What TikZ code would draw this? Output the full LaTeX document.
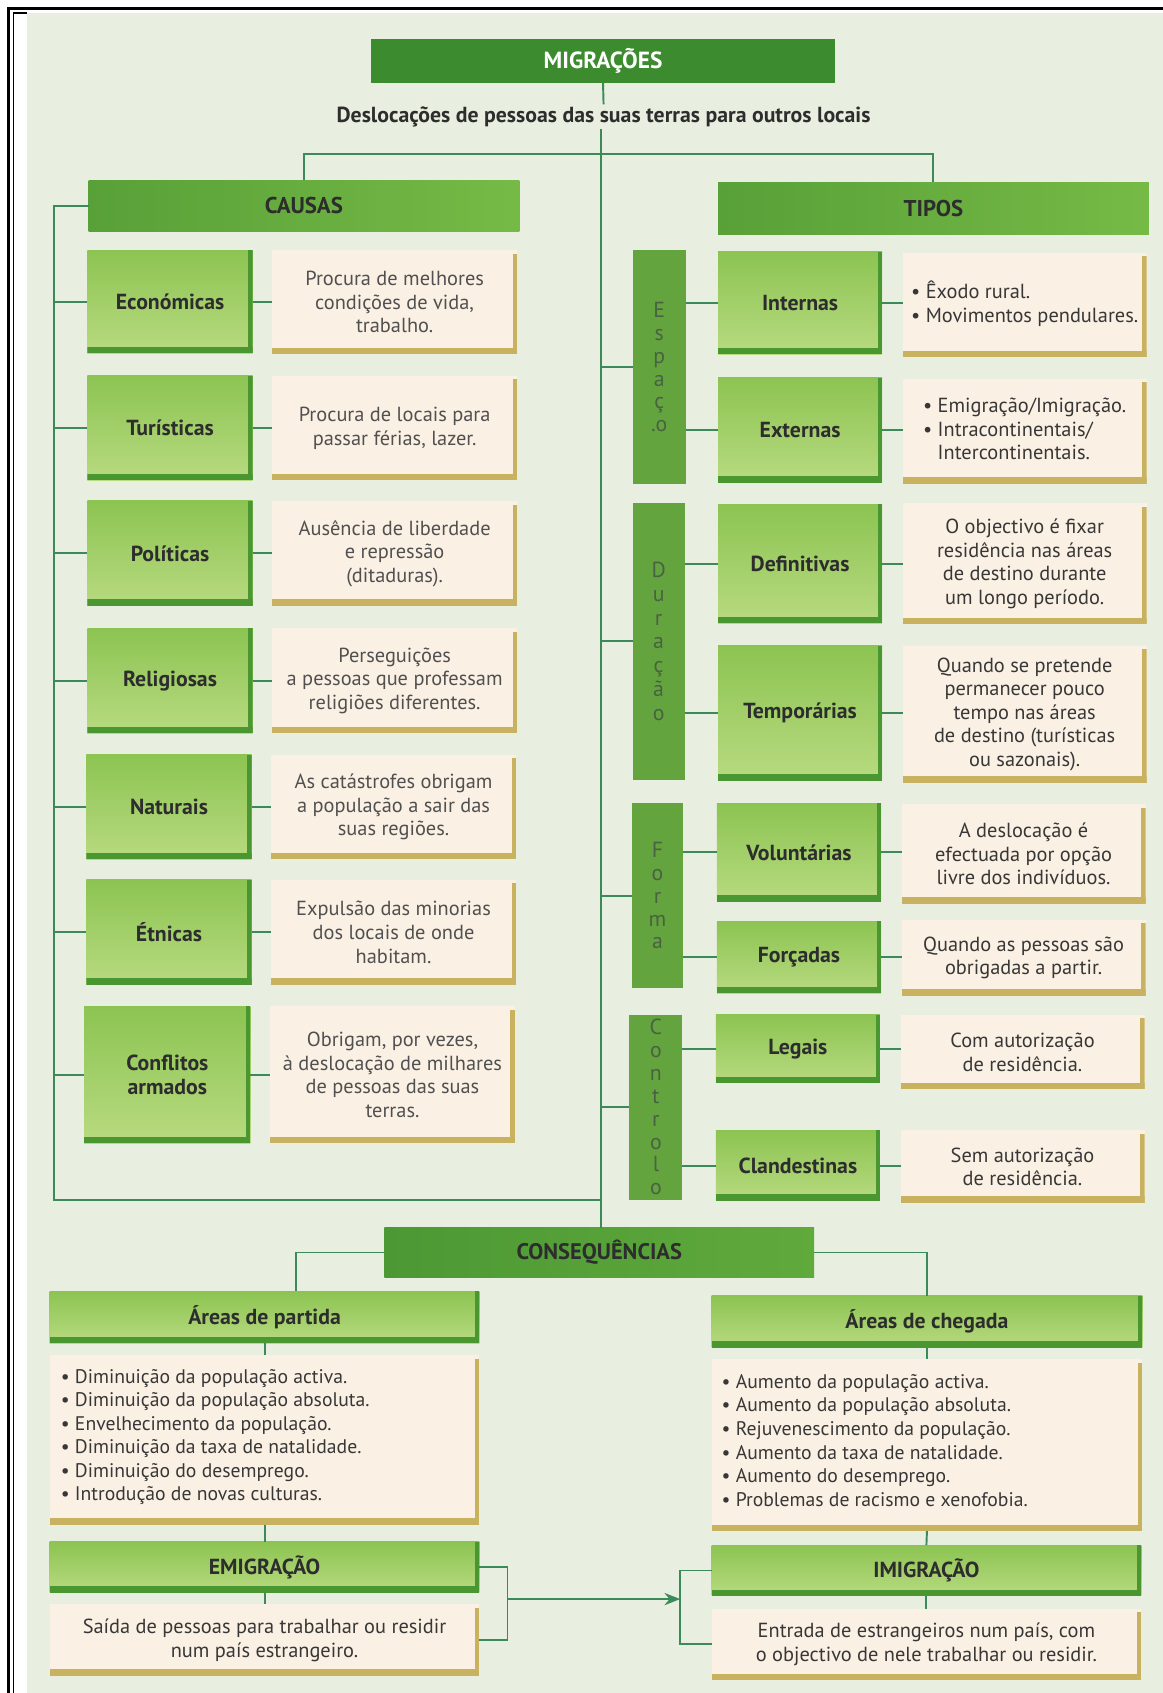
\documentclass[tikz,border=0pt]{standalone}
\usepackage{fontspec}
\setmainfont{PT Sans}
\usetikzlibrary{arrows.meta}
\definecolor{migrG}{RGB}{61,139,47}
\definecolor{headA}{RGB}{88,160,56}
\definecolor{headB}{RGB}{118,186,70}
\definecolor{conA}{RGB}{76,152,52}
\definecolor{conB}{RGB}{96,170,60}
\definecolor{catG}{RGB}{100,164,62}
\definecolor{lgA}{RGB}{140,196,82}
\definecolor{lgB}{RGB}{184,218,128}
\definecolor{gdark}{RGB}{74,150,48}
\definecolor{beige}{RGB}{251,240,228}
\definecolor{olive}{RGB}{200,178,95}
\definecolor{lineG}{RGB}{60,138,90}
\definecolor{bgc}{RGB}{233,239,224}
\definecolor{txt}{RGB}{45,45,45}
\definecolor{txtd}{RGB}{80,80,80}
\definecolor{txtr}{RGB}{55,55,55}
\definecolor{catT}{RGB}{72,98,66}
\tikzset{
  conn/.style={draw=lineG, line width=1.1pt},
  box/.style={inner sep=0pt, outer sep=0pt, align=center},
  migr/.style={box, fill=migrG, text=white, font=\bfseries\fontsize{13.3}{15}\selectfont},
  head/.style={box, left color=headA, right color=headB, text=txt, font=\bfseries\fontsize{13}{15}\selectfont},
  conseqbox/.style={box, left color=conA, right color=conB, text=txt, font=\bfseries\fontsize{12.8}{15}\selectfont},
  gbox/.style={box, top color=lgA, bottom color=lgB, text=txt, font=\bfseries\fontsize{12.4}{14.2}\selectfont,
    path picture={
      \fill[gdark] ([yshift=3.6pt]path picture bounding box.south west) rectangle (path picture bounding box.south east);
      \fill[gdark] ([xshift=-2.4pt]path picture bounding box.north east) rectangle (path picture bounding box.south east);}},
  bbox/.style={box, fill=beige, text=txtd, font=\fontsize{11.6}{13.4}\selectfont,
    path picture={
      \fill[olive] ([yshift=3.6pt]path picture bounding box.south west) rectangle (path picture bounding box.south east);
      \fill[olive] ([xshift=-2.6pt,yshift=-2pt]path picture bounding box.north east) rectangle (path picture bounding box.south east);}},
  rbox/.style={bbox, text=txtr},
  cat/.style={box, fill=catG, text=catT, font=\fontsize{12.4}{13}\selectfont},
  listt/.style={inner sep=0pt, align=left, text=txtr, font=\fontsize{11.2}{13.4}\selectfont},
}
% #1 style, #2 x1, #3 y1, #4 x2, #5 y2, #6 name, #7 text
\newcommand\bx[7]{\node[#1, minimum width={(#4-#2)*0.0216cm}, minimum height={(#5-#3)*0.0216cm}] (#6) at ({(#2+#4)/2},{(#3+#5)/2}) {#7};}
\begin{document}
\begin{tikzpicture}[x=0.0216cm, y=-0.0216cm]
\useasboundingbox (0,0) rectangle (1077,1568);
\fill[white] (0,0) rectangle (1077,1568);
\fill[bgc] (25,12) rectangle (1077,1568);
\draw[black, line width=1.3pt] (8,1568) -- (8,8) -- (1077,8);
\draw[black, line width=1.1pt] (12.5,1568) -- (12.5,12) -- (25,12);

% top
\bx{migr}{344}{36}{773}{77}{migr}{MIGRAÇÕES}
\node[inner sep=1pt, text=txt, font=\bfseries\fontsize{12.4}{14}\selectfont] (sub) at (559,108) {Deslocações de pessoas das suas terras para outros locais};
\bx{head}{82}{167}{481}{214}{causas}{CAUSAS}
\bx{head}{665}{169}{1064}{217}{tipos}{TIPOS}

\coordinate (sp) at (557,0);
\coordinate (hub) at (557,143);
\coordinate (lb) at (50,1111);

% causes
\bx{gbox}{81}{232}{234}{327}{eco}{Económicas}
\bx{bbox}{252}{232}{479}{328}{ecod}{Procura de melhores\\condições de vida,\\trabalho.}
\bx{gbox}{81}{348}{234}{445}{tur}{Turísticas}
\bx{bbox}{252}{348}{479}{445}{turd}{Procura de locais para\\passar férias, lazer.}
\bx{gbox}{81}{464}{234}{561}{pol}{Políticas}
\bx{bbox}{252}{464}{479}{561}{pold}{Ausência de liberdade\\e repressão\\(ditaduras).}
\bx{gbox}{81}{582}{234}{679}{rel}{Religiosas}
\bx{bbox}{252}{582}{479}{679}{reld}{Perseguições\\a pessoas que professam\\religiões diferentes.}
\bx{gbox}{80}{699}{233}{796}{nat}{Naturais}
\bx{bbox}{251}{699}{478}{796}{natd}{As catástrofes obrigam\\a população a sair das\\suas regiões.}
\bx{gbox}{80}{815}{233}{912}{etn}{Étnicas}
\bx{bbox}{251}{815}{478}{912}{etnd}{Expulsão das minorias\\dos locais de onde\\habitam.}
\bx{gbox}{78}{932}{232}{1059}{con}{Conflitos\\armados}
\bx{bbox}{250}{932}{477}{1059}{cond}{Obrigam, por vezes,\\à deslocação de milhares\\de pessoas das suas\\terras.}

% categories
\bx{cat}{586}{232}{635}{448}{esp}{E\\s\\p\\a\\ç\\.o}
\bx{cat, font=\fontsize{12.4}{13.6}\selectfont}{586}{466}{634}{722}{dur}{D\\u\\r\\a\\ç\\ã\\o}
\bx{cat}{585}{744}{633}{915}{forma}{F\\o\\r\\m\\a}
\bx{cat}{583}{940}{632}{1111}{contr}{C\\o\\n\\t\\r\\o\\l\\o}

% types
\bx{gbox}{665}{233}{817}{328}{int}{Internas}
\bx{rbox}{836}{234}{1062}{331}{intd}{\begin{tabular}{@{}l@{}}• Êxodo rural.\\• Movimentos pendulares.\end{tabular}}
\bx{gbox}{665}{350}{817}{447}{ext}{Externas}
\bx{rbox}{836}{351}{1062}{448}{extd}{\begin{tabular}{@{}l@{}}• Emigração/Imigração.\\• Intracontinentais/\\\phantom{• }Intercontinentais.\end{tabular}}
\bx{gbox}{665}{467}{817}{577}{def}{Definitivas}
\bx{rbox}{836}{466}{1062}{578}{defd}{O objectivo é fixar\\residência nas áreas\\de destino durante\\um longo período.}
\bx{gbox}{665}{598}{817}{723}{tem}{Temporárias}
\bx{rbox}{836}{598}{1062}{725}{temd}{Quando se pretende\\permanecer pouco\\tempo nas áreas\\de destino (turísticas\\ou sazonais).}
\bx{gbox}{664}{744}{816}{835}{vol}{Voluntárias}
\bx{rbox}{835}{745}{1061}{837}{vold}{A deslocação é\\efectuada por opção\\livre dos indivíduos.}
\bx{gbox}{664}{853}{816}{920}{for}{Forçadas}
\bx{rbox}{835}{852}{1061}{922}{ford}{Quando as pessoas são\\obrigadas a partir.}
\bx{gbox}{663}{940}{815}{1003}{leg}{Legais}
\bx{rbox}{834}{940}{1060}{1009}{legd}{Com autorização\\de residência.}
\bx{gbox}{663}{1047}{815}{1112}{cla}{Clandestinas}
\bx{rbox}{834}{1047}{1060}{1114}{clad}{Sem autorização\\de residência.}

% consequences
\bx{conseqbox}{356}{1137}{754}{1183}{conseq}{CONSEQUÊNCIAS}
\bx{gbox}{46}{1196}{444}{1244}{partida}{Áreas de partida}
\bx{bbox}{46}{1255}{444}{1412}{plist}{}
\node[listt, anchor=west] (plt) at (56,1331) {• Diminuição da população activa.\\• Diminuição da população absoluta.\\• Envelhecimento da população.\\• Diminuição da taxa de natalidade.\\• Diminuição do desemprego.\\• Introdução de novas culturas.};
\bx{gbox}{46}{1428}{444}{1475}{emig}{EMIGRAÇÃO}
\bx{rbox}{46}{1486}{444}{1552}{emigd}{Saída de pessoas para trabalhar ou residir\\num país estrangeiro.}

\bx{gbox}{659}{1200}{1058}{1248}{chegada}{Áreas de chegada}
\bx{bbox}{659}{1259}{1058}{1418}{clist}{}
\node[listt, anchor=west] (clt) at (668,1334) {• Aumento da população activa.\\• Aumento da população absoluta.\\• Rejuvenescimento da população.\\• Aumento da taxa de natalidade.\\• Aumento do desemprego.\\• Problemas de racismo e xenofobia.};
\bx{gbox}{659}{1431}{1057}{1478}{imig}{IMIGRAÇÃO}
\bx{rbox}{659}{1490}{1057}{1556}{imigd}{Entrada de estrangeiros num país, com\\o objectivo de nele trabalhar ou residir.}

\coordinate (pl) at (274,1196);
\coordinate (bl) at (470,1481);
\coordinate (br) at (630,1481);

% connectors
\draw[conn] (migr.south) -- (sub.north);
\draw[conn] (sub.south -| sp) -- (conseq.north -| sp);
\draw[conn] (causas.north) |- (hub) -| (tipos.north);
\draw[conn] (causas.west) -| (lb) -- (lb -| sp);
\foreach \a/\b in {eco/ecod,tur/turd,pol/pold,rel/reld,nat/natd,etn/etnd,con/cond}{
  \draw[conn] (\a.west -| lb) -- (\a.west);
  \draw[conn] (\a.east) -- (\a.east -| \b.west);
}
\foreach \c in {esp,dur,forma,contr}{
  \draw[conn] (\c.west -| sp) -- (\c.west);
}
\foreach \c/\a/\b in {esp/int/intd,esp/ext/extd,dur/def/defd,dur/tem/temd,forma/vol/vold,forma/for/ford,contr/leg/legd,contr/cla/clad}{
  \draw[conn] (\a.west -| \c.east) -- (\a.west);
  \draw[conn] (\a.east) -- (\a.east -| \b.west);
}
\draw[conn] (conseq.west) -| (pl);
\draw[conn] (conseq.east) -| (chegada.north);
\draw[conn] (partida.south) -- (plist.north);
\draw[conn] (plist.south) -- (emig.north);
\draw[conn] (emig.south) -- (emigd.north);
\draw[conn] (chegada.south) -- (clist.north);
\draw[conn] (clist.south) -- (imig.north);
\draw[conn] (imig.south) -- (imigd.north);
\draw[conn] (emig.east) -| (bl) |- (emigd.east);
\draw[conn] (imig.west) -| (br) |- (imigd.west);
\draw[conn, -{Stealth[length=9pt,width=7pt]}] (bl) -- (br);
\end{tikzpicture}
\end{document}
